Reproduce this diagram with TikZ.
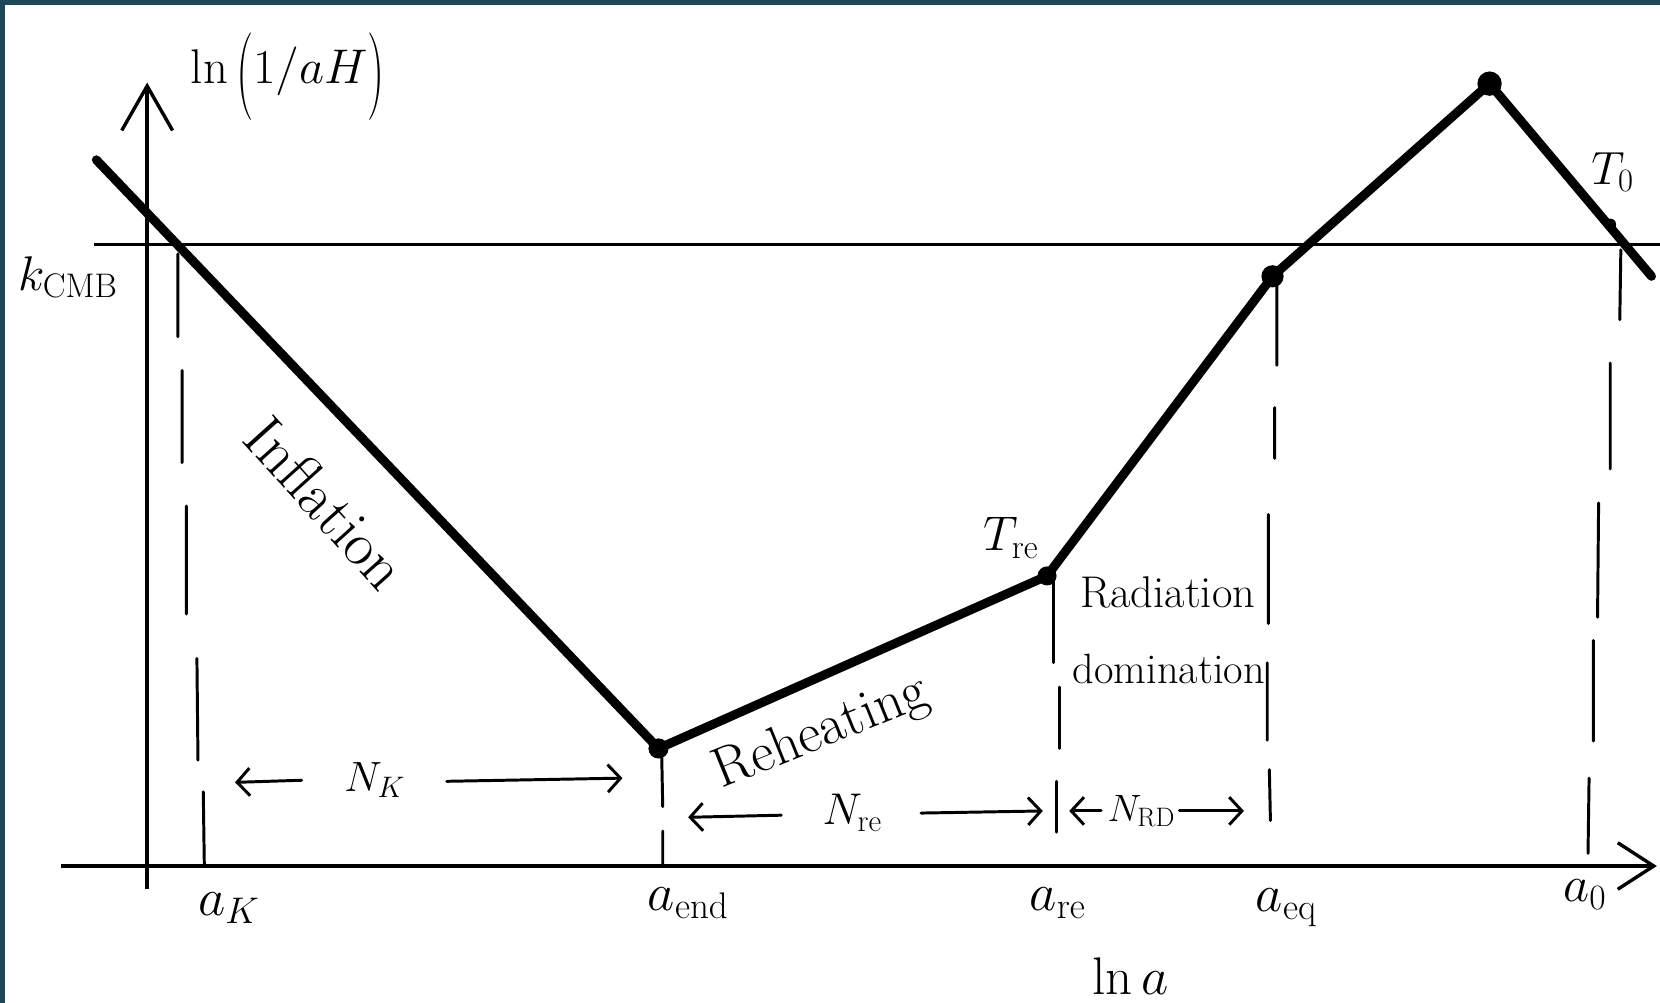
\RequirePackage{fix-cm}
\documentclass[tikz,border=0pt]{standalone}
\usepackage{graphicx}
\usetikzlibrary{arrows.meta}
\definecolor{framecol}{RGB}{28,72,88}
\newcommand{\tallparen}[1]{\raisebox{-0.3em}{\scalebox{1}[1.8]{#1}}}
\begin{document}
\begin{tikzpicture}[x=1pt,y=-1pt,
  curve/.style={line width=8.5pt,line cap=round,line join=round},
  axisline/.style={line width=3.2pt},
  refline/.style={line width=2.6pt},
  guide/.style={line width=2.8pt,line cap=round},
  narr/.style={line width=2.8pt,line cap=round,-{Straight Barb[length=12pt,width=26pt,line width=2.8pt]}},
  lbl/.style={inner sep=0pt,font=\fontsize{#1}{#1}\selectfont},
]
\useasboundingbox (0,0) rectangle (1568,947);
\fill[white] (0,0) rectangle (1568,947);
\fill[framecol] (0,0) rectangle (1568,5);
\fill[framecol] (0,0) rectangle (5,947);

% axes
\coordinate (ytip) at (139,78);
\coordinate (ybot) at (139,840);
\coordinate (xleft) at (58,818);
\coordinate (xtip) at (1565,818);
\draw[axisline,-{Straight Barb[length=42pt,width=48pt,line width=3.2pt]}] (ybot) -- (ytip);
\draw[axisline,-{Straight Barb[length=34pt,width=44pt,line width=3.2pt]}] (xleft) -- (xtip);

% k_CMB level
\coordinate (kl) at (89,231);
\coordinate (kr) at (1568,231);
\draw[refline] (kl) -- (kr);

% dashed guides (hand drawn)
\draw[guide] (168,240)--(168,318) (172,350)--(172,437) (176,478)--(176,580) (186,622)--(187,718) (192,748)--(193,818);
\draw[guide] (625,712)--(626,762) (626,785)--(626,818);
\draw[guide] (995,545)--(995,626) (1001,649)--(1001,707) (998,738)--(998,786);
\draw[guide] (1206,268)--(1206,345) (1204,385)--(1204,433) (1198,486)--(1198,589) (1197,626)--(1197,699) (1199,727)--(1200,775);
\draw[guide] (1531,236)--(1530,302) (1521,343)--(1521,443) (1510,475)--(1509,583) (1505,605)--(1505,700) (1501,735)--(1500,806);

% main curve
\coordinate (start) at (91,151);
\coordinate (aend) at (622,707);
\coordinate (treP) at (989,544);
\coordinate (aeqP) at (1202,261);
\coordinate (peak) at (1407,79);
\coordinate (stop) at (1560,261);
\coordinate (tzero) at (1521,212);
\draw[curve] (start) -- (aend) -- (treP) -- (aeqP) -- (peak) -- (stop);
\fill (aend) circle (9.5);
\fill (treP) circle (9);
\fill (aeqP) circle (10.5);
\fill (peak) circle (11.5);
\fill (tzero) circle (5.5);

% labels
\node[lbl=46] (ylab) at (272,72) {$\ln\tallparen{$($}1/aH\tallparen{$)$}$};
\node[lbl=46] (kcmb) at (64,262) {$k_{\mathrm{CMB}}$};
\node[lbl=58,rotate=-48] (infl) at (308,475) {Inflation};
\node[lbl=53,rotate=22] (reh) at (776,693) {Reheating};
\node[lbl=46] (tre) at (955,508) {$T_{\mathrm{re}}$};
\node[lbl=42] (rad1) at (1103,560) {Radiation};
\node[lbl=40] (rad2) at (1104,632) {domination};
\node[lbl=44] (tnull) at (1523,163) {$T_0$};

% N labels and arrows
\node[lbl=40] (nk) at (354,737) {$N_K$};
\coordinate (nkLt) at (285,737); \coordinate (nkL) at (222,739);
\coordinate (nkRt) at (422,738); \coordinate (nkR) at (588,735);
\draw[narr] (nkLt) -- (nkL);
\draw[narr] (nkRt) -- (nkR);

\node[lbl=42] (nre) at (805,768) {$N_{\mathrm{re}}$};
\coordinate (nreLt) at (738,770); \coordinate (nreL) at (650,772);
\coordinate (nreRt) at (870,768); \coordinate (nreR) at (985,766);
\draw[narr] (nreLt) -- (nreL);
\draw[narr] (nreRt) -- (nreR);

\node[lbl=36] (nrd) at (1078,766) {$N_{\mathrm{RD}}$};
\coordinate (nrdLt) at (1040,766); \coordinate (nrdL) at (1010,766);
\coordinate (nrdRt) at (1114,766); \coordinate (nrdR) at (1175,766);
\draw[narr] (nrdLt) -- (nrdL);
\draw[narr] (nrdRt) -- (nrdR);

% axis labels
\node[lbl=50] (ak) at (216,858) {$a_K$};
\node[lbl=50] (aendl) at (650,853) {$a_{\mathrm{end}}$};
\node[lbl=50] (are) at (999,853) {$a_{\mathrm{re}}$};
\node[lbl=50] (aeq) at (1215,857) {$a_{\mathrm{eq}}$};
\node[lbl=48] (azero) at (1497,845) {$a_0$};
\node[lbl=50] (lna) at (1068,922) {$\ln a$};
\end{tikzpicture}
\end{document}
